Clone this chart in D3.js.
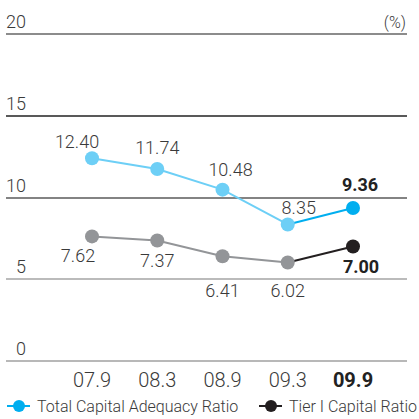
<!DOCTYPE html>
<html lang="en">
<head>
    <meta charset="UTF-8">
    <title>Capital Adequacy Ratio</title>
    <script src="https://d3js.org/d3.v7.min.js"></script>
    <style>
        body, html {
            margin: 0;
            background: #fff;
            overflow: hidden;
        }
        text {
            font-family: Roboto, "Liberation Sans", sans-serif;
            fill: #3a3a3a;
        }
    </style>
</head>
<body>
<script>
    const periods = ['07.9', '08.3', '08.9', '09.3', '09.9'];
    const totalRatio = [12.40, 11.74, 10.48, 8.35, 9.36];
    const tierOneRatio = [7.62, 7.37, 6.41, 6.02, 7.00];
    const yTicks = [0, 5, 10, 15, 20];
    const gridColors = ['#a0a0a0', '#a5a5a5', '#5a5a5a', '#222', '#666'];

    // label offsets (dx, baseline dy) relative to the point
    const totalLabelPos = [[-15, -10], [0, -15], [8, -14], [11, -10], [7, -17]];
    const tierLabelPos = [[-14, 26], [0, 26], [0, 41], [0, 34], [8, 26]];

    const W = 419, H = 419;
    const svg = d3.select('body').append('svg')
        .attr('width', W).attr('height', H);

    const x = d3.scalePoint().domain(periods).range([92, 353]);
    const y = d3.scaleLinear().domain([0, 20]).range([361, 34]);

    // grid lines + y labels
    svg.selectAll('.grid')
        .data(yTicks)
        .enter().append('line')
        .attr('x1', 6).attr('x2', 407)
        .attr('y1', d => Math.round(y(d)))
        .attr('y2', d => Math.round(y(d)))
        .attr('stroke', (d, i) => gridColors[i])
        .attr('stroke-width', 1.6);

    svg.selectAll('.ylab')
        .data(yTicks)
        .enter().append('text')
        .attr('x', 26)
        .attr('y', d => y(d) - 6)
        .attr('text-anchor', 'end')
        .style('font-size', '18px')
        .style('font-weight', 300)
        .text(d => d);

    svg.append('text')
        .attr('x', 406).attr('y', 28)
        .attr('text-anchor', 'end')
        .style('font-size', '16px')
        .style('font-weight', 300)
        .text('(%)');

    // x labels
    svg.selectAll('.xlab')
        .data(periods)
        .enter().append('text')
        .attr('x', d => x(d))
        .attr('y', 387)
        .attr('text-anchor', 'middle')
        .style('font-size', '20px')
        .style('font-weight', (d, i) => i === periods.length - 1 ? 700 : 300)
        .style('fill', (d, i) => i === periods.length - 1 ? '#222' : '#3a3a3a')
        .text(d => d);

    function drawSeries(values, color, lastColor, labelPos) {
        const pts = values.map((v, i) => [x(periods[i]), y(v)]);
        const line = d3.line();
        svg.append('path')
            .attr('d', line(pts.slice(0, pts.length - 1)))
            .attr('fill', 'none')
            .attr('stroke', color)
            .attr('stroke-width', 2);
        svg.append('path')
            .attr('d', line(pts.slice(pts.length - 2)))
            .attr('fill', 'none')
            .attr('stroke', lastColor)
            .attr('stroke-width', 2);
        svg.selectAll(null)
            .data(values)
            .enter().append('circle')
            .attr('cx', (d, i) => x(periods[i]))
            .attr('cy', d => y(d))
            .attr('r', 7)
            .attr('fill', (d, i) => i === values.length - 1 ? lastColor : color);
        svg.selectAll(null)
            .data(values)
            .enter().append('text')
            .attr('x', (d, i) => x(periods[i]) + labelPos[i][0])
            .attr('y', (d, i) => y(d) + labelPos[i][1])
            .attr('text-anchor', 'middle')
            .style('font-size', '18px')
            .style('font-weight', (d, i) => i === values.length - 1 ? 700 : 300)
            .style('fill', (d, i) => i === values.length - 1 ? '#222' : '#3a3a3a')
            .text(d => d.toFixed(2));
    }

    drawSeries(tierOneRatio, '#939598', '#231f20', tierLabelPos);
    drawSeries(totalRatio, '#6dcff6', '#00aeef', totalLabelPos);

    // legend
    const legend = [
        {name: 'Total Capital Adequacy Ratio', color: '#00aeef', x: 7},
        {name: 'Tier I Capital Ratio', color: '#231f20', x: 259}
    ];
    const lg = svg.selectAll('.legend')
        .data(legend)
        .enter().append('g')
        .attr('transform', d => `translate(${d.x},406)`);
    lg.append('line')
        .attr('x1', 0).attr('x2', 23)
        .attr('stroke', d => d.color).attr('stroke-width', 2);
    lg.append('circle')
        .attr('cx', 12).attr('r', 6)
        .attr('fill', d => d.color);
    lg.append('text')
        .attr('x', 30).attr('y', 6)
        .style('font-size', '16px')
        .style('font-weight', 300)
        .text(d => d.name);
</script>
</body>
</html>
